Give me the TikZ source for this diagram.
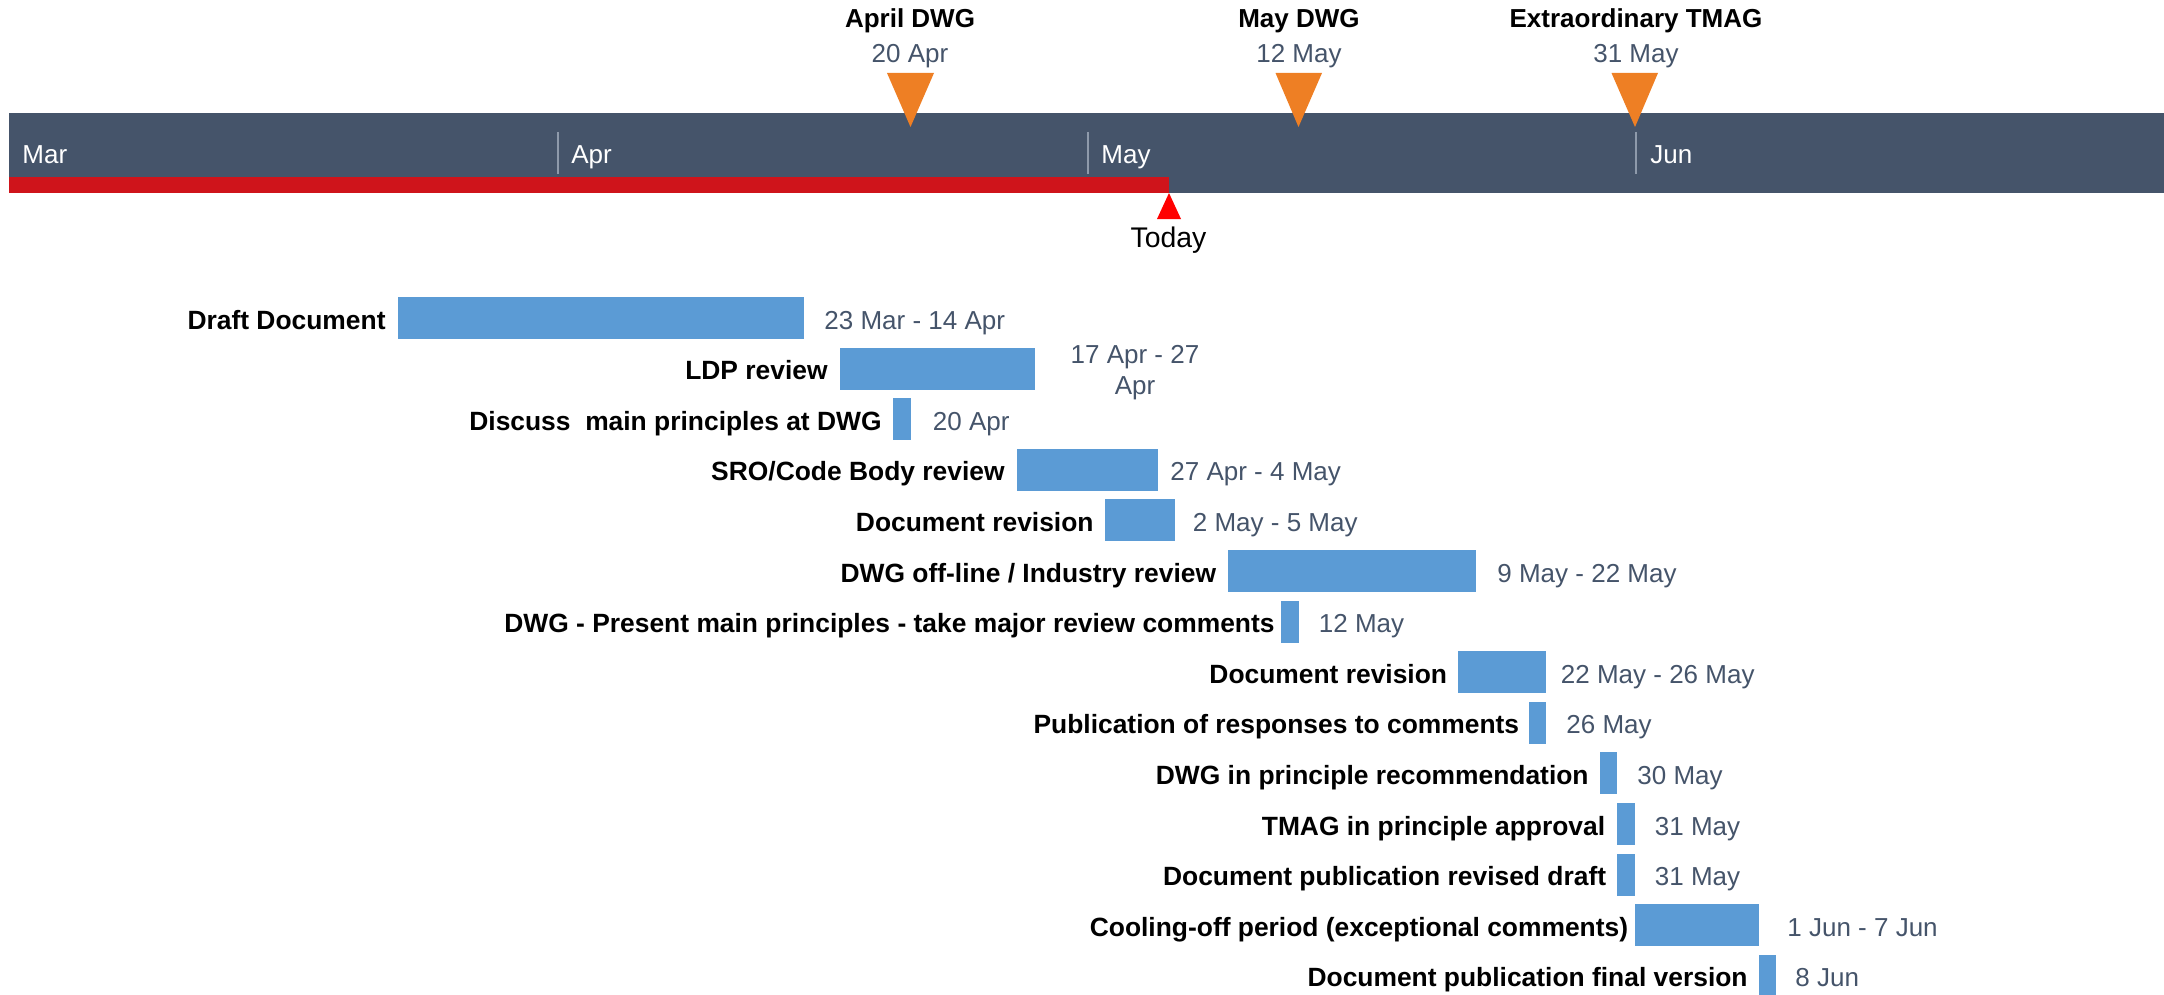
\documentclass[tikz,border=0pt]{standalone}
\usepackage{fontspec}
\setmainfont{Liberation Sans}
\definecolor{slate}{HTML}{45546A}
\definecolor{barblue}{HTML}{5B9BD5}
\definecolor{todayred}{HTML}{CF141B}
\definecolor{msorange}{HTML}{EE7F24}
\definecolor{tickgray}{HTML}{8E9AAB}
\begin{document}
\begin{tikzpicture}[x=0.5pt,y=-0.5pt,
  lbl/.style={font=\bfseries\fontsize{13.2}{15}\selectfont, text=black, inner sep=0pt, anchor=base east},
  dlbl/.style={font=\fontsize{13}{15}\selectfont, text=slate, inner sep=0pt, anchor=base west},
  mtitle/.style={font=\bfseries\fontsize{13}{15}\selectfont, text=black, inner sep=0pt, anchor=base},
  mdate/.style={font=\fontsize{13}{15}\selectfont, text=slate, inner sep=0pt, anchor=base},
  month/.style={font=\fontsize{13}{15}\selectfont, text=white, inner sep=0pt, anchor=base west},
  taskbar/.style={fill=barblue},
  tickline/.style={draw=tickgray, line width=1pt},
  milestone/.style={fill=msorange}]
\useasboundingbox (0,0) rectangle (2164,995);

% timeline band
\fill[slate] (9,113) rectangle (2164,193);
\fill[todayred] (9,177) rectangle (1169,193);
\draw[tickline] (558,132) -- (558,174);
\draw[tickline] (1088,132) -- (1088,174);
\draw[tickline] (1636,132) -- (1636,174);
\node[month] (mMar) at (22,163) {Mar};
\node[month] (mApr) at (571,163) {Apr};
\node[month] (mMay) at (1101,163) {May};
\node[month] (mJun) at (1650,163) {Jun};

% milestones
\fill[milestone] (887,73) -- (934,73) -- (910.5,127) -- cycle;
\fill[milestone] (1275.5,73) -- (1322,73) -- (1298.5,127) -- cycle;
\fill[milestone] (1611.5,73) -- (1658,73) -- (1635,127) -- cycle;
\node[mtitle] (t1) at (910,28) {April DWG};
\node[mdate] (t1d) at (910,63) {20 Apr};
\node[mtitle] (t2) at (1299,28) {May DWG};
\node[mdate] (t2d) at (1299,63) {12 May};
\node[mtitle] (t3) at (1636,28) {Extraordinary TMAG};
\node[mdate] (t3d) at (1636,63) {31 May};

% today
\fill[red] (1157,219) -- (1181,219) -- (1169,193) -- cycle;
\node[font=\fontsize{14.2}{16}\selectfont, inner sep=0pt, anchor=base] (today) at (1168.5,247) {Today};

% tasks
\fill[taskbar] (397.7,297) rectangle (804,339);
\node[lbl] (l0) at (386,329) {Draft Document};
\node[dlbl] (d0) at (824,329) {23 Mar - 14 Apr};

\fill[taskbar] (839.5,347.6) rectangle (1035,389.6);
\node[lbl] (l1) at (828,379.6) {LDP review};
\node[font=\fontsize{13}{15.5}\selectfont, text=slate, inner sep=0pt, anchor=base, align=center] (d1) at (1135,394) {17 Apr - 27\\Apr};

\fill[taskbar] (892.5,398.2) rectangle (910.5,440.2);
\node[lbl] (l2) at (882,430.2) {Discuss\ \ main principles at DWG};
\node[dlbl] (d2) at (932.5,430.2) {20 Apr};

\fill[taskbar] (1016.5,448.8) rectangle (1158,490.8);
\node[lbl] (l3) at (1005,480.8) {SRO/Code Body review};
\node[dlbl] (d3) at (1170,480.8) {27 Apr - 4 May};

\fill[taskbar] (1104.5,499.4) rectangle (1175,541.4);
\node[lbl] (l4) at (1094,531.4) {Document revision};
\node[dlbl] (d4) at (1192.5,531.4) {2 May - 5 May};

\fill[taskbar] (1228,550) rectangle (1476,592);
\node[lbl] (l5) at (1216.5,582) {DWG off-line / Industry review};
\node[dlbl] (d5) at (1497,582) {9 May - 22 May};

\fill[taskbar] (1281,600.6) rectangle (1299,642.6);
\node[lbl] (l6) at (1275,632.6) {DWG - Present main principles - take major review comments};
\node[dlbl] (d6) at (1318.5,632.6) {12 May};

\fill[taskbar] (1458,651.2) rectangle (1546,693.2);
\node[lbl] (l7) at (1447.5,683.2) {Document revision};
\node[dlbl] (d7) at (1560.5,683.2) {22 May - 26 May};

\fill[taskbar] (1528.6,701.8) rectangle (1546,743.8);
\node[lbl] (l8) at (1519.5,733.8) {Publication of responses to comments};
\node[dlbl] (d8) at (1566,733.8) {26 May};

\fill[taskbar] (1599.5,752.4) rectangle (1617,794.4);
\node[lbl] (l9) at (1589,784.4) {DWG in principle recommendation};
\node[dlbl] (d9) at (1637,784.4) {30 May};

\fill[taskbar] (1617,803) rectangle (1634.6,845);
\node[lbl] (l10) at (1605.5,835) {TMAG in principle approval};
\node[dlbl] (d10) at (1654.5,835) {31 May};

\fill[taskbar] (1617,853.6) rectangle (1634.6,895.6);
\node[lbl] (l11) at (1606.5,885.6) {Document publication revised draft};
\node[dlbl] (d11) at (1654.5,885.6) {31 May};

\fill[taskbar] (1634.6,904.2) rectangle (1758.5,946.2);
\node[lbl] (l12) at (1628.5,936.2) {Cooling-off period (exceptional comments)};
\node[dlbl] (d12) at (1787,936.2) {1 Jun - 7 Jun};

\fill[taskbar] (1758.5,954.8) rectangle (1776,996.8);
\node[lbl] (l13) at (1748,986.8) {Document publication final version};
\node[dlbl] (d13) at (1795,986.8) {8 Jun};
\end{tikzpicture}
\end{document}
